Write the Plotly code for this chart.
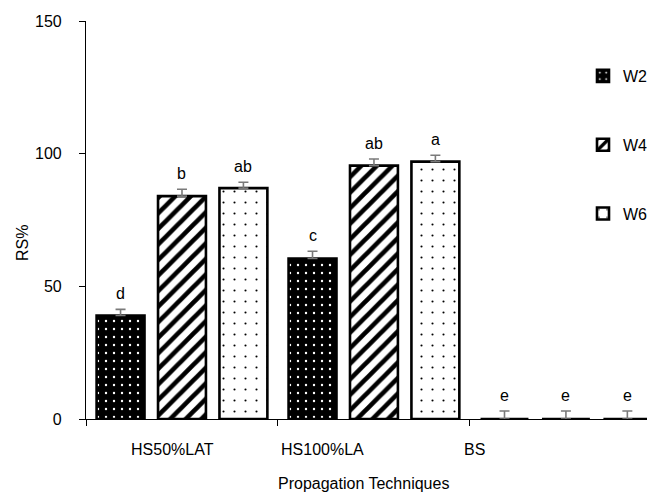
import plotly.graph_objects as go

categories = ["HS50%LAT", "HS100%LA", "BS"]
series_names = ["W2", "W4", "W6"]
w2_values = [39.0, 60.5, 0.0]
w4_values = [84.0, 95.5, 0.0]
w6_values = [87.0, 97.0, 0.0]
w2_err = [2.3, 2.7, 3.0]
w4_err = [2.6, 2.5, 3.0]
w6_err = [2.2, 2.4, 3.0]
w2_letters = ["d", "c", "e"]
w4_letters = ["b", "ab", "e"]
w6_letters = ["ab", "a", "e"]
y_ticks = [0, 50, 100, 150]
category_label_pos = [-0.05, 0.73, 1.526]

FONT = "Liberation Sans, Arial, sans-serif"
FS = 16

values = [w2_values, w4_values, w6_values]
errs = [w2_err, w4_err, w6_err]
letters = [w2_letters, w4_letters, w6_letters]
patterns = [
    dict(shape=".", bgcolor="black", fgcolor="white", size=8, solidity=0.07, fillmode="replace"),
    dict(shape="/", bgcolor="white", fgcolor="black", size=11, solidity=0.42, fillmode="replace"),
    dict(shape=".", bgcolor="white", fgcolor="black", size=11, solidity=0.03, fillmode="replace"),
]

bargap = 0.04
bargroupgap = 0.22

# page body has an 8px margin; lay out in figure pixels
OFF = 8
W, H = 655 - OFF, 493 - OFF
L, R, T = 86 - OFF, 0, 21 - OFF
B = H - (419 - OFF)
pw, ph = W - L - R, H - T - B


def px_x(sx):
    return (sx - OFF - L) / pw


def px_y(sy):
    return (H - B - (sy - OFF)) / ph


fig = go.Figure()
for j, name in enumerate(series_names):
    fig.add_trace(go.Bar(
        x=categories, y=values[j], name=name,
        legendgroup=name,
        marker=dict(color="white", pattern=patterns[j], line=dict(color="black", width=2.6)),
        error_y=dict(type="data", array=errs[j], arrayminus=[0] * len(errs[j]), symmetric=False,
                     color="#7a7a7a", thickness=1.6, width=5),
    ))

annotations = []
slot = (1 - bargap) / len(series_names)
for j in range(len(series_names)):
    off = (j - (len(series_names) - 1) / 2) * slot
    for i in range(len(categories)):
        annotations.append(dict(
            x=i + off, y=values[j][i] + errs[j][i], xref="x", yref="y",
            text=letters[j][i], showarrow=False, yanchor="bottom", yshift=5,
            font=dict(family=FONT, size=FS, color="black")))

for i, c in enumerate(categories):
    annotations.append(dict(
        x=category_label_pos[i], y=px_y(449), xref="x", yref="paper", text=c, showarrow=False,
        yanchor="middle", font=dict(family=FONT, size=FS, color="black")))

annotations.append(dict(x=px_x(363), y=px_y(483), xref="paper", yref="paper",
                        text="Propagation Techniques", showarrow=False,
                        xanchor="center", yanchor="middle",
                        font=dict(family=FONT, size=FS, color="black")))
annotations.append(dict(x=px_x(22), y=px_y(243), xref="paper", yref="paper", text="RS%",
                        textangle=-90, showarrow=False, xanchor="center", yanchor="middle",
                        font=dict(family=FONT, size=FS, color="black")))

fig.update_layout(
    width=W, height=H,
    margin=dict(l=L, r=R, t=T, b=B, autoexpand=False),
    paper_bgcolor="white", plot_bgcolor="white",
    barmode="group", bargap=bargap, bargroupgap=bargroupgap,
    font=dict(family=FONT, size=FS, color="black"),
    showlegend=True,
    legend=dict(x=px_x(583), y=px_y(59), xanchor="left", yanchor="top", tracegroupgap=45,
                bgcolor="rgba(0,0,0,0)", font=dict(family=FONT, size=FS, color="black"),
                itemwidth=30),
    annotations=annotations,
    xaxis=dict(type="category", range=[-0.5, 2.464], showline=True, linecolor="black", linewidth=1.2,
               ticks="outside", tickson="boundaries", ticklen=6, tickcolor="black", tickwidth=1.2,
               showticklabels=False, showgrid=False, zeroline=False),
    yaxis=dict(range=[0, 150], tickvals=y_ticks, showline=True, linecolor="black", linewidth=1.2,
               ticks="outside", ticklen=6, tickcolor="black", tickwidth=1.2,
               showgrid=False, zeroline=False, ticklabelstandoff=14,
               tickfont=dict(family=FONT, size=FS, color="black")),
)

fig.write_html("out.html")
